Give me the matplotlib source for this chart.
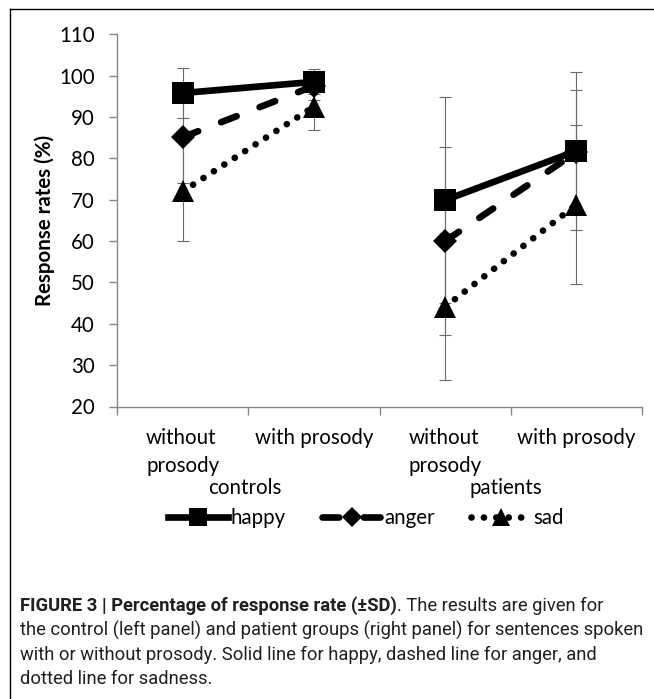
import matplotlib
matplotlib.use("Agg")
import matplotlib.pyplot as plt
from matplotlib.lines import Line2D
import numpy as np

# ---- data ----
categories = ["without\nprosody", "with prosody", "without\nprosody", "with prosody"]
groups = ["controls", "patients"]
series_names = ["happy", "anger", "sad"]
happy = [95.8, 98.5, 69.9, 81.8]
happy_sd = [6.0, 3.0, 24.9, 19.2]
anger = [85.1, 97.5, 60.0, 81.5]
anger_sd = [11.0, 3.5, 22.8, 15.0]
sad = [72.0, 92.5, 44.1, 68.8]
sad_sd = [12.0, 5.7, 17.8, 19.2]
yticks = [20, 30, 40, 50, 60, 70, 80, 90, 100, 110]

FONT = ["Lato", "DejaVu Sans"]
plt.rcParams["font.family"] = FONT

W, H = 654, 699
fig = plt.figure(figsize=(W / 100, H / 100), dpi=100)

def fx(px):
    return px / W

def fy(py):
    return 1 - py / H

ax = fig.add_axes([fx(117), fy(406.5), fx(642) - fx(117), fy(34.3) - fy(406.5)])

x = np.arange(len(categories))
styles = {
    "happy": dict(ls="-", marker="s", ms=16),
    "anger": dict(ls=(0, (2.5, 3.7)), marker="D", ms=12),
    "sad": dict(ls=(0, (0.01, 1.85)), marker="^", ms=16),
}
data = {"happy": (happy, happy_sd), "anger": (anger, anger_sd), "sad": (sad, sad_sd)}

lw = 4.8
FS = 14.8
for name in series_names:
    vals, sds = data[name]
    ax.errorbar(x, vals, yerr=sds, fmt="none", ecolor="#6a6a6a", elinewidth=0.8,
                capsize=4, capthick=0.8, zorder=1)

for name in series_names:
    vals, sds = data[name]
    st = styles[name]
    for g in range(2):
        idx = [2 * g, 2 * g + 1]
        ax.plot(x[idx], [vals[i] for i in idx], color="black", lw=lw, ls=st["ls"],
                marker=st["marker"], ms=st["ms"], markeredgewidth=0,
                dash_capstyle="round", solid_capstyle="butt", zorder=3)

ax.set_xlim(-0.5, 3.5)
ax.set_ylim(20, 110)
ax.set_yticks(yticks)
ax.set_yticklabels([str(t) for t in yticks], fontsize=FS)
ax.set_xticks([-0.5, 0.5, 1.5, 2.5, 3.5])
ax.set_xticklabels([])
for i, lab in enumerate(categories):
    ax.text(i, -0.059, lab, transform=ax.get_xaxis_transform(), ha="center", va="top",
            fontsize=FS, multialignment="left", linespacing=1.45)

for s in ["top", "right"]:
    ax.spines[s].set_visible(False)
for s in ["left", "bottom"]:
    ax.spines[s].set_color("#888888")
    ax.spines[s].set_linewidth(1.0)
ax.tick_params(axis="both", color="#888888", length=6, width=1.0, direction="out")
ax.tick_params(axis="y", pad=10)

ax.set_ylabel("Response rates (%)", fontsize=FS, fontweight="bold", labelpad=3)

# group labels
fig.text(fx(245), fy(488), groups[0], ha="center", va="center", fontsize=FS)
fig.text(fx(506), fy(488), groups[1], ha="center", va="center", fontsize=FS)

# legend
handles = [Line2D([0], [0], color="black", lw=lw, ls=styles[n]["ls"], marker=styles[n]["marker"],
                  ms=styles[n]["ms"] * 0.85, markeredgewidth=0, dash_capstyle="round")
           for n in series_names]
fig.legend(handles, series_names, loc="center", bbox_to_anchor=(fx(366), fy(518)), ncol=3,
           frameon=False, fontsize=FS, handlelength=2.9, handletextpad=0.1, columnspacing=1.8)

# border lines
fig.add_artist(Line2D([fx(10), fx(10)], [fy(9), 0], color="black", lw=1.0, transform=fig.transFigure))
fig.add_artist(Line2D([fx(10), 1], [fy(9), fy(9)], color="black", lw=1.0, transform=fig.transFigure))

# caption
cap_font = ["Roboto", "DejaVu Sans"]
cap_size = 13.2
cap_color = "#231f20"
t1 = fig.text(fx(20), fy(611), "FIGURE 3 | Percentage of response rate (\u00b1SD)", fontsize=cap_size,
              fontweight="bold", family=cap_font, color=cap_color, va="baseline")
fig.canvas.draw()
bb = t1.get_window_extent()
fig.text(bb.x1 / W, fy(611), ". The results are given for", fontsize=cap_size, family=cap_font,
         color=cap_color, va="baseline")
lines = ["the control (left panel) and patient groups (right panel) for sentences spoken",
         "with or without prosody. Solid line for happy, dashed line for anger, and",
         "dotted line for sadness."]
for k, ln in enumerate(lines):
    fig.text(fx(20), fy(635.5 + 24.5 * k), ln, fontsize=cap_size, family=cap_font, color=cap_color,
             va="baseline")

fig.savefig("out.png", dpi=100)
